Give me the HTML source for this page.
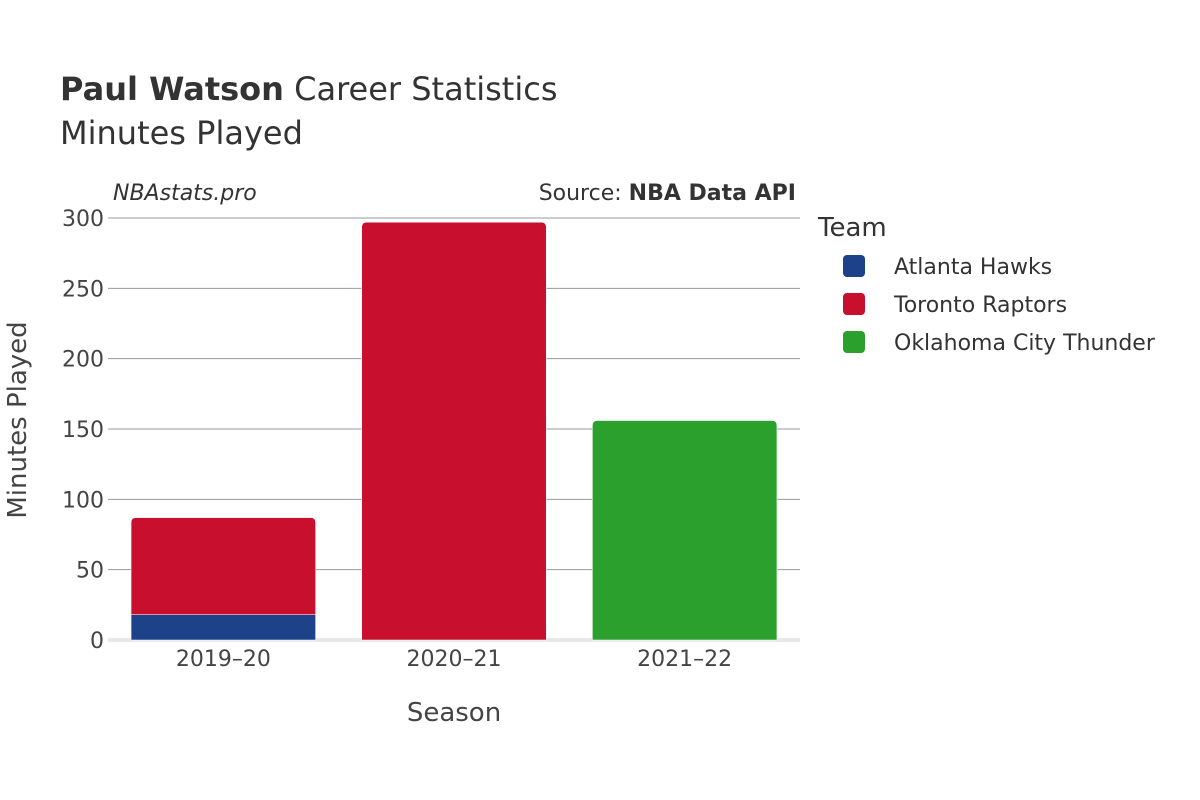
<!DOCTYPE html>
<html><head><meta charset="utf-8">
<style>
html,body{margin:0;padding:0;background:#fff;}
svg{display:block;font-family:"DejaVu Sans","Liberation Sans",sans-serif;}
</style></head>
<body>
<svg id="chart" width="1200" height="800" viewBox="0 0 1200 800">
  <text x="60" y="100" font-size="32" fill="#333"><tspan font-weight="bold">Paul Watson</tspan> Career Statistics</text>
  <text x="60" y="144" font-size="32" fill="#333">Minutes Played</text>
  <text x="113" y="200" font-size="22" font-style="italic" fill="#333">NBAstats.pro</text>
  <text x="796" y="200" font-size="22" fill="#333" text-anchor="end">Source: <tspan font-weight="bold">NBA Data API</tspan></text>
  <g id="grid"></g>
  <g id="bars"></g>
  <g id="yticks"></g>
  <g id="xticks"></g>
  <text x="454" y="721" font-size="26" fill="#444" text-anchor="middle">Season</text>
  <text transform="translate(26,420) rotate(-90)" font-size="26" fill="#444" text-anchor="middle">Minutes Played</text>
  <g id="legend">
    <text x="818" y="236" font-size="26" fill="#333">Team</text>
  </g>
</svg>
<script>
const seasons = ["2019–20", "2020–21", "2021–22"];
const teams = ["Atlanta Hawks", "Toronto Raptors", "Oklahoma City Thunder"];
const colors = ["#1d428a", "#c8102e", "#2ca02c"];
const hawks = [18, 0, 0];
const raptors = [69, 297, 0];
const thunder = [0, 0, 156];
const yTicks = [0, 50, 100, 150, 200, 250, 300];

const NS = "http://www.w3.org/2000/svg";
const X0 = 108, X1 = 800, Y0 = 640, Y300 = 218;
const yScale = v => Y0 - v * (Y0 - Y300) / 300;
const band = (X1 - X0) / seasons.length;
const xCenter = i => X0 + band * (i + 0.5);
const barW = band * 0.8;

function mk(tag, attrs, parent) {
  const e = document.createElementNS(NS, tag);
  for (const k in attrs) e.setAttribute(k, attrs[k]);
  parent.appendChild(e);
  return e;
}
const grid = document.getElementById("grid");
const yt = document.getElementById("yticks");
yTicks.forEach(t => {
  const y = yScale(t);
  const l = mk("line", {x1: X0, x2: X1, y1: y, y2: y, stroke: t === 0 ? "#e8e8e8" : "#999", "stroke-width": t === 0 ? 4 : 1}, grid);
  
  
  const tx = mk("text", {x: 104, y: y + 8, "font-size": 22, fill: "#444", "text-anchor": "end"}, yt);
  tx.textContent = t;
  
  
});
const xt = document.getElementById("xticks");
seasons.forEach((s, i) => {
  const tx = mk("text", {x: xCenter(i), y: 666, "font-size": 22, fill: "#444", "text-anchor": "middle"}, xt);
  tx.textContent = s;
  
  
});
function roundTopPath(x, y, w, h, r) {
  r = Math.min(r, h, w / 2);
  return `M${x},${y + h}V${y + r}Q${x},${y} ${x + r},${y}H${x + w - r}Q${x + w},${y} ${x + w},${y + r}V${y + h}Z`;
}
const barsG = document.getElementById("bars");
const series = [hawks, raptors, thunder];
seasons.forEach((s, i) => {
  let base = 0;
  const total = series.reduce((a, arr) => a + arr[i], 0);
  series.forEach((arr, k) => {
    const v = arr[i];
    if (!v) return;
    const yTop = yScale(base + v), yBot = yScale(base);
    const isTop = (base + v) === total;
    const x = xCenter(i) - barW / 2;
    const p = mk("path", {d: isTop ? roundTopPath(x, yTop, barW, yBot - yTop, 5) : `M${x},${yBot}V${yTop}H${x + barW}V${yBot}Z`, fill: colors[k], stroke: "#fff", "stroke-width": 0.5}, barsG);
    
    
    base += v;
  });
});
const lg = document.getElementById("legend");
teams.forEach((t, k) => {
  const y = 266 + k * 38;
  const r = mk("rect", {x: 843, y: y - 11, width: 22, height: 22, rx: 4, fill: colors[k]}, lg);
  
  
  const tx = mk("text", {x: 894, y: y + 8, "font-size": 22, fill: "#333"}, lg);
  tx.textContent = t;
  
  
});
</script>
</body></html>
